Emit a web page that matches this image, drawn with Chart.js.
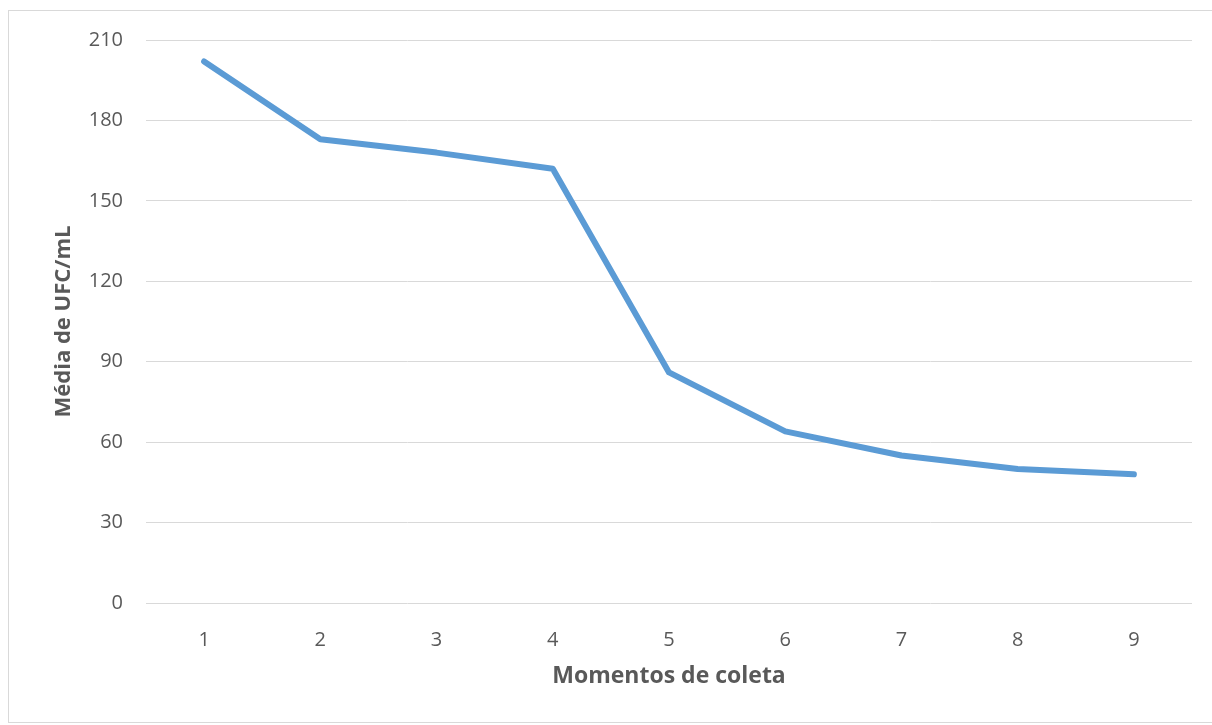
<!DOCTYPE html>
<html>
<head>
<meta charset="utf-8">
<title>Média de UFC/mL</title>
<script src="https://cdn.jsdelivr.net/npm/chart.js@4.4.1/dist/chart.umd.min.js"></script>
<style>
  html, body { margin: 0; padding: 0; background: #fff; overflow: hidden; }
  #frame {
    position: absolute; left: 8px; top: 10px; width: 1210px; height: 711px;
    border: 1px solid #d9d9d9; border-right: none;
  }
  #wrap { position: absolute; left: 0; top: 0; width: 1212px; height: 725px; }
</style>
</head>
<body>
<div id="frame"></div>
<div id="wrap"><canvas id="lineChart" width="1212" height="725"></canvas></div>
<script>
  // collection moments and mean colony counts
  const moments = ['1', '2', '3', '4', '5', '6', '7', '8', '9'];
  const meanUfc = [202, 173, 168, 162, 86, 64, 55, 50, 48];
  const yMin = 0;
  const yMax = 210;
  const yStep = 30;

  const grey = '#595959';
  const family = '"Open Sans", "Liberation Sans", sans-serif';

  const ctx = document.getElementById('lineChart').getContext('2d');
  new Chart(ctx, {
    type: 'line',
    data: {
      labels: moments,
      datasets: [{
        data: meanUfc,
        borderColor: '#5B9BD5',
        backgroundColor: '#5B9BD5',
        borderWidth: 6,
        borderCapStyle: 'round',
        borderJoinStyle: 'round',
        tension: 0,
        pointRadius: 0,
        fill: false
      }]
    },
    options: {
      responsive: false,
      animation: false,
      layout: { padding: { top: 40, right: 20, bottom: 0, left: 0 } },
      plugins: { legend: { display: false }, tooltip: { enabled: false } },
      scales: {
        x: {
          offset: true,
          grid: { display: false, drawTicks: false },
          border: { display: false },
          ticks: { color: grey, padding: 25, font: { family, size: 20 } },
          title: {
            display: true,
            text: 'Momentos de coleta',
            color: grey,
            padding: { top: 0, bottom: 35 },
            font: { family, size: 23, weight: 'bold' }
          },
          afterFit: (scale) => { scale.height = 122; }
        },
        y: {
          min: yMin,
          max: yMax,
          grid: { color: '#d9d9d9', lineWidth: 1, drawTicks: false },
          border: { display: false },
          ticks: { stepSize: yStep, color: grey, padding: 23, font: { family, size: 20 } },
          title: {
            display: true,
            text: 'Média de UFC/mL',
            color: grey,
            padding: { top: 51, bottom: 0 },
            font: { family, size: 22, weight: 'bold' }
          },
          afterFit: (scale) => { scale.width = 146; }
        }
      }
    }
  });
</script>
</body>
</html>
